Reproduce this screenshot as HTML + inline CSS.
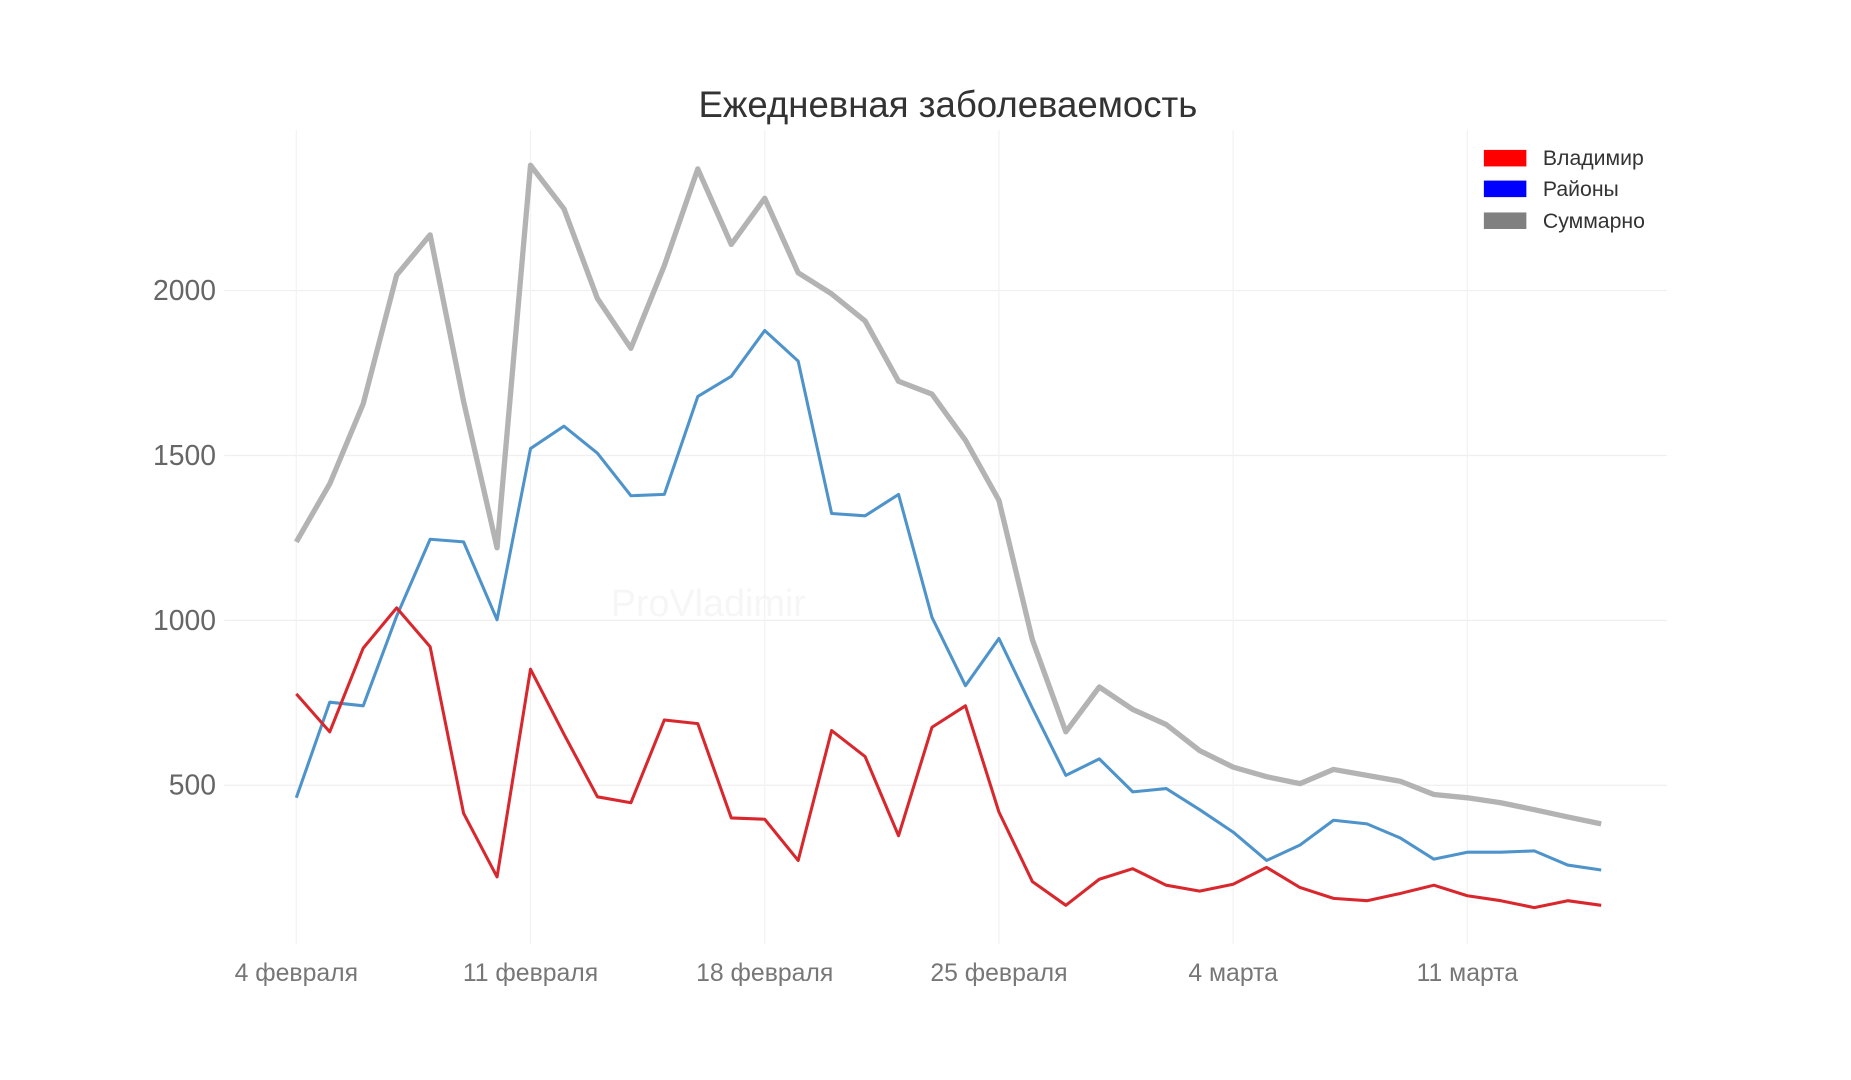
<!DOCTYPE html>
<html><head><meta charset="utf-8"><style>html,body{margin:0;padding:0;background:#fff}svg{display:block}</style></head>
<body>
<svg width="1851" height="1080" viewBox="0 0 1568 915" preserveAspectRatio="none" xmlns="http://www.w3.org/2000/svg" font-family="Liberation Sans, DejaVu Sans, sans-serif">
<text x="803" y="99" text-anchor="middle" font-size="31" fill="#333">Ежедневная заболеваемость</text>
<text x="600" y="522" text-anchor="middle" font-size="32" fill="#f6f6f6">ProVladimir</text>
<g id="grid"></g>
<g id="series"></g>
<g id="axes"></g>
<g font-size="18" fill="#333">
<rect x="1257" y="127" width="36" height="14" fill="#ff0000"/>
<text x="1307" y="140">Владимир</text>
<rect x="1257" y="153" width="36" height="14" fill="#0000ff"/>
<text x="1307" y="166">Районы</text>
<rect x="1257" y="180" width="36" height="14" fill="#808080"/>
<text x="1307" y="193">Суммарно</text>
</g>
</svg>
<script>
const total=[1238,1414,1657,2047,2169,1664,1220,2380,2248,1976,1825,2076,2369,2140,2280,2054,1990,1908,1725,1686,1546,1364,941,662,798,730,684,605,555,526,505,548,530,512,472,462,447,426,404,383];
const districts=[462,752,741,1013,1246,1238,1002,1521,1589,1507,1378,1382,1679,1740,1879,1786,1324,1317,1382,1009,802,945,734,530,580,480,490,426,358,272,319,394,383,340,276,297,297,301,258,243];
const vladimir=[777,662,916,1038,920,415,222,852,655,465,447,698,687,401,397,272,666,587,347,676,741,419,208,136,215,247,197,179,200,251,190,157,150,172,197,165,150,129,150,136];
const xTickLabels=["4 февраля","11 февраля","18 февраля","25 февраля","4 марта","11 марта"];
const xTickDays=[0,7,14,21,28,35];
const yTicks=[500,1000,1500,2000];
const NS="http://www.w3.org/2000/svg";
function xs(d){return 251+d*(1243-251)/35;}
function ys(v){return 805-v*(139.7/500);}
function mk(t,a,p){const e=document.createElementNS(NS,t);for(const k in a)e.setAttribute(k,a[k]);p.appendChild(e);return e;}
const grid=document.getElementById('grid'),axes=document.getElementById('axes'),ser=document.getElementById('series');
yTicks.forEach(v=>{
 const l=mk('line',{x1:190,x2:1412,y1:ys(v),y2:ys(v),stroke:'#efefef','stroke-width':1},grid);
 
 
 const t=mk('text',{x:183,y:ys(v)+8,'text-anchor':'end','font-size':24,fill:'#666'},axes);
 t.textContent=v;
 
 
});
xTickDays.forEach((d,i)=>{
 const l=mk('line',{x1:xs(d),x2:xs(d),y1:110,y2:800,stroke:'#f2f2f2','stroke-width':1},grid);
 
 
 const t=mk('text',{x:xs(d),y:831,'text-anchor':'middle','font-size':21,fill:'#777'},axes);
 t.textContent=xTickLabels[i];
 
 
});
function line(arr,color,w,name){
 const p=mk('polyline',{points:arr.map((v,i)=>xs(i)+','+ys(v)).join(' '),fill:'none',stroke:color,'stroke-width':w,'stroke-linejoin':'round'},ser);
 
 
}
line(total,'#b3b3b3',4.5,'line-total');
line(districts,'#4e94cb',2.6,'line-districts');
line(vladimir,'#d9282d',2.6,'line-vladimir');
</script>
</body></html>
